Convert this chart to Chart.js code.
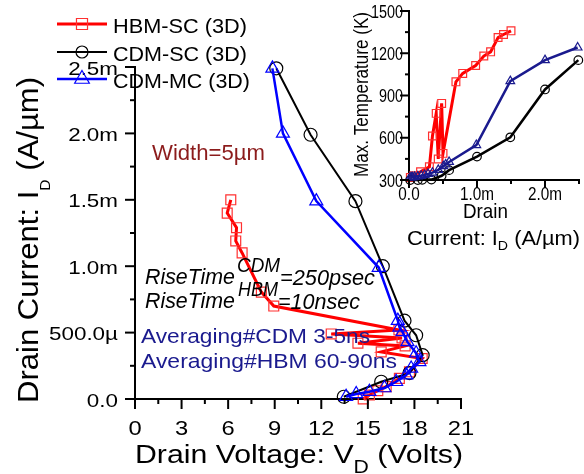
<!DOCTYPE html>
<html>
<head>
<meta charset="utf-8">
<script src="https://cdn.jsdelivr.net/npm/chart.js@4/dist/chart.umd.min.js"></script>
<style>
    html, body { margin: 0; padding: 0; background: #fff; }
    #wrap { position: relative; width: 584px; height: 474px; }
    #mainChart { position: absolute; left: 0; top: 0; }
    #insetChart { position: absolute; left: 340px; top: 0; }
</style>
</head>
<body>
<div id="wrap">
    <canvas id="mainChart" width="584" height="474"></canvas>
    <canvas id="insetChart" width="244" height="262"></canvas>
</div>
<script>
// ---- main plot data: drain voltage (V) vs drain current (mA/µm) ----
const hbmV = [6.17, 5.94, 6.54, 6.49, 6.90, 8.14, 8.94, 17.0, 12.64, 17.2, 14.36, 17.4, 15.86, 18.5, 17.68, 17.03, 16.18, 15.64, 15.1, 14.7];
const hbmI = [1.50, 1.40, 1.29, 1.19, 1.10, 0.805, 0.70, 0.52, 0.49, 0.46, 0.42, 0.40, 0.355, 0.305, 0.205, 0.155, 0.093, 0.062, 0.03, 0.0];

const cdmScV = [9.1, 11.31, 14.2, 15.96, 17.36, 18.11, 18.53, 17.68, 15.86, 13.45];
const cdmScI = [2.49, 1.99, 1.49, 1.0, 0.59, 0.48, 0.33, 0.195, 0.13, 0.017];

const cdmMcV = [8.85, 9.53, 11.68, 15.70, 16.93, 17.04, 17.23, 17.55, 18.11, 18.32, 17.79, 17.47, 16.82, 16.07, 15.1, 14.25, 13.6];
const cdmMcI = [2.49, 2.0, 1.49, 0.99, 0.59, 0.54, 0.505, 0.43, 0.345, 0.28, 0.23, 0.18, 0.13, 0.083, 0.055, 0.038, 0.017];

const xTickVals = [0, 3, 6, 9, 12, 15, 18, 21];
const xTickLabels = ['0', '3', '6', '9', '12', '15', '18', '21'];
const yTickVals = [0, 0.5, 1.0, 1.5, 2.0, 2.5];
const yTickLabels = ['0.0', '500.0µ', '1.0m', '1.5m', '2.0m', '2.5m'];

// ---- inset data: drain current (mA/µm) vs max temperature (K) ----
const inHbmI = [0.02, 0.07, 0.17, 0.30, 0.345, 0.40, 0.43, 0.48, 0.50, 0.69, 0.79, 0.98, 1.10, 1.20, 1.31, 1.39, 1.50];
const inHbmT = [318, 330, 359, 394, 612, 773, 449, 844, 489, 997, 1057, 1113, 1180, 1210, 1312, 1333, 1359];

const inCdmScI = [0.017, 0.13, 0.195, 0.33, 0.48, 0.59, 1.0, 1.49, 2.0, 2.49];
const inCdmScT = [300, 300, 301, 303, 330, 370, 466, 603, 943, 1151];

const inCdmMcI = [0.017, 0.038, 0.055, 0.083, 0.13, 0.18, 0.23, 0.28, 0.345, 0.43, 0.505, 0.54, 0.59, 0.99, 1.49, 2.0, 2.48];
const inCdmMcT = [318, 318, 320, 322, 326, 330, 336, 343, 352, 372, 398, 410, 428, 548, 1002, 1151, 1241];

const inXTickVals = [0, 1, 2];
const inXTickLabels = ['0.0', '1.0m', '2.0m'];
const inXMinor = [0.5, 1.5, 2.5];
const inYTickVals = [300, 600, 900, 1200, 1500];
const inYTickLabels = ['300', '600', '900', '1200', '1500'];

// 颜色
const RED = '#ff0000';
const BLUE = '#0000ff';
const NAVY = '#1a1a8e';
const DARKRED = '#8c1c1c';
const FONT = "'Liberation Sans', Arial, Helvetica, sans-serif";

function toPoints(xs, ys) {
    return xs.map((x, i) => ({ x: x, y: ys[i] }));
}

function midpoints(vals) {
    return vals.slice(1).map((v, i) => (v + vals[i]) / 2);
}

// text with optional sub/superscripts, stretched to a target width
function drawText(ctx, parts, x, y, o) {
    if (typeof parts === 'string') parts = [[parts, '']];
    const style = o.italic ? 'italic ' : '';
    const fontFor = k => style + (k ? o.size * (o.subSize || 0.62) : o.size) + 'px ' + FONT;
    ctx.save();
    let w = 0;
    const widths = parts.map(([t, k]) => {
        ctx.font = fontFor(k);
        const m = ctx.measureText(t).width;
        w += m;
        return m;
    });
    const sx = o.width ? o.width / w : (o.sx || 1);
    ctx.translate(x, y);
    if (o.rotate) ctx.rotate(o.rotate);
    ctx.scale(sx, 1);
    let cx = o.align === 'right' ? -w : o.align === 'center' ? -w / 2 : 0;
    ctx.fillStyle = o.color || '#000';
    ctx.textAlign = 'left';
    ctx.textBaseline = 'alphabetic';
    parts.forEach(([t, k], i) => {
        ctx.font = fontFor(k);
        const dy = k === 'sub' ? (o.subDy || o.size * 0.3) : k === 'sup' ? -o.size * 0.45 : 0;
        ctx.fillText(t, cx, dy);
        cx += widths[i];
    });
    ctx.restore();
}

function line(ctx, x1, y1, x2, y2) {
    ctx.beginPath();
    ctx.moveTo(x1, y1);
    ctx.lineTo(x2, y2);
    ctx.stroke();
}

function drawMarker(ctx, style, x, y, r, color) {
    ctx.save();
    ctx.strokeStyle = color;
    ctx.lineWidth = 1.2;
    ctx.beginPath();
    if (style === 'rect') {
        const s = Math.SQRT1_2 * r;
        ctx.rect(x - s, y - s, 2 * s, 2 * s);
    } else if (style === 'circle') {
        ctx.arc(x, y, r, 0, Math.PI * 2);
    } else {
        for (let k = 0; k < 3; k++) {
            const a = k * 2 * Math.PI / 3;
            ctx[k ? 'lineTo' : 'moveTo'](x + Math.sin(a) * r, y - Math.cos(a) * r);
        }
        ctx.closePath();
    }
    ctx.stroke();
    ctx.restore();
}

function series(label, pts, color, lw, style, r, mColor, order) {
    return {
        label: label,
        data: pts,
        showLine: true,
        borderColor: color,
        borderWidth: lw,
        pointStyle: style,
        pointRadius: r,
        pointBorderWidth: 1.2,
        pointBorderColor: mColor,
        pointBackgroundColor: 'rgba(0,0,0,0)',
        tension: 0,
        clip: false,
        order: order
    };
}

function axisOpts(min, max) {
    return {
        type: 'linear',
        min: min,
        max: max,
        grid: { display: false, drawTicks: false, tickLength: 0 },
        ticks: { display: false },
        border: { display: true, color: '#000', width: 2 }
    };
}

// 主图的刻度、标题、注释、图例
const mainDecor = {
    id: 'mainDecor',
    afterDraw(chart) {
        const ctx = chart.ctx;
        const xs = chart.scales.x, ys = chart.scales.y;
        const a = chart.chartArea;

        ctx.save();
        ctx.strokeStyle = '#000';
        ctx.lineWidth = 2;
        xTickVals.forEach(v => line(ctx, xs.getPixelForValue(v), a.bottom, xs.getPixelForValue(v), a.bottom + 10));
        midpoints(xTickVals).forEach(v => line(ctx, xs.getPixelForValue(v), a.bottom, xs.getPixelForValue(v), a.bottom + 5));
        yTickVals.forEach(v => line(ctx, a.left - 10, ys.getPixelForValue(v), a.left, ys.getPixelForValue(v)));
        midpoints(yTickVals).forEach(v => line(ctx, a.left - 5, ys.getPixelForValue(v), a.left, ys.getPixelForValue(v)));
        ctx.restore();

        xTickVals.forEach((v, i) => drawText(ctx, xTickLabels[i], xs.getPixelForValue(v), a.bottom + 36, { size: 21, sx: 1.13, align: 'center' }));
        yTickVals.forEach((v, i) => drawText(ctx, yTickLabels[i], 118, ys.getPixelForValue(v) + 7.5, { size: 19, sx: 1.18, align: 'right' }));

        // axis titles
        drawText(ctx, [['Drain Voltage: V', ''], ['D', 'sub'], [' (Volts)', '']], 135, 463, { size: 25.5, width: 328, subSize: 0.7, subDy: 10 });
        drawText(ctx, [['Drain Current: I', ''], ['D', 'sub'], [' (A/µm)', '']], 38, 403, { size: 29, width: 326, rotate: -Math.PI / 2, subSize: 0.5, subDy: 12 });

        // annotations
        drawText(ctx, 'Width=5µm', 152, 160, { size: 22.5, width: 113, color: DARKRED });
        drawText(ctx, 'RiseTime', 145, 284, { size: 22, width: 90, italic: true });
        drawText(ctx, 'CDM', 237, 272, { size: 19.5, width: 43, italic: true });
        drawText(ctx, '=250psec', 280, 285, { size: 22, width: 95, italic: true });
        drawText(ctx, 'RiseTime', 145, 308, { size: 22, width: 90, italic: true });
        drawText(ctx, 'HBM', 238, 296, { size: 19.5, width: 40, italic: true });
        drawText(ctx, '=10nsec', 278, 309, { size: 22, width: 82, italic: true });
        drawText(ctx, 'Averaging#CDM 3-5ns', 141, 343, { size: 21, width: 229, color: NAVY });
        drawText(ctx, 'Averaging#HBM 60-90ns', 141, 368, { size: 21, width: 256, color: NAVY });

        // legend
        const legend = [
            ['HBM-SC (3D)', RED, 3, 'rect', 7.8, '#ff3030', 24, 134],
            ['CDM-SC (3D)', '#000', 2, 'circle', 6, '#000', 52, 134],
            ['CDM-MC (3D)', BLUE, 2.5, 'triangle', 8.5, BLUE, 79, 137]
        ];
        legend.forEach(([txt, col, lw, st, r, mc, y, w]) => {
            ctx.save();
            ctx.strokeStyle = col;
            ctx.lineWidth = lw;
            line(ctx, 57, y, 107, y);
            ctx.restore();
            drawMarker(ctx, st, 82, y, r, mc);
            drawText(ctx, txt, 113, y + 9, { size: 21, width: w });
        });
    }
};

// 插图的刻度和标题
const insetDecor = {
    id: 'insetDecor',
    afterDraw(chart) {
        const ctx = chart.ctx;
        const xs = chart.scales.x, ys = chart.scales.y;
        const a = chart.chartArea;

        ctx.save();
        ctx.strokeStyle = '#000';
        ctx.lineWidth = 2;
        inXTickVals.forEach(v => line(ctx, xs.getPixelForValue(v), a.bottom, xs.getPixelForValue(v), a.bottom + 8));
        inXMinor.forEach(v => line(ctx, xs.getPixelForValue(v), a.bottom, xs.getPixelForValue(v), a.bottom + 4));
        inYTickVals.forEach(v => line(ctx, a.left - 9, ys.getPixelForValue(v), a.left, ys.getPixelForValue(v)));
        midpoints(inYTickVals).forEach(v => line(ctx, a.left - 4, ys.getPixelForValue(v), a.left, ys.getPixelForValue(v)));
        ctx.restore();

        inXTickVals.forEach((v, i) => drawText(ctx, inXTickLabels[i], xs.getPixelForValue(v), 200, { size: 18, sx: 0.85, align: 'center' }));
        inYTickVals.forEach((v, i) => drawText(ctx, inYTickLabels[i], 63, ys.getPixelForValue(v) + 6.5, { size: 18, sx: 0.8, align: 'right' }));

        drawText(ctx, 'Max. Temperature (K)', 28, 177, { size: 20, width: 165, rotate: -Math.PI / 2 });
        drawText(ctx, 'Drain', 145.5, 218, { size: 21, width: 45, align: 'center' });
        drawText(ctx, [['Current: I', ''], ['D', 'sub'], [' (A/µm)', '']], 67, 245, { size: 21, width: 173, subSize: 0.65, subDy: 5 });
    }
};

// 主图
new Chart(document.getElementById('mainChart'), {
    type: 'scatter',
    data: {
        datasets: [
            series('CDM-MC (3D)', toPoints(cdmMcV, cdmMcI), BLUE, 2.5, 'triangle', 7.5, BLUE, 0),
            series('CDM-SC (3D)', toPoints(cdmScV, cdmScI), '#000', 2, 'circle', 6.5, '#000', 1),
            series('HBM-SC (3D)', toPoints(hbmV, hbmI), RED, 3, 'rect', 7, '#ff3030', 2)
        ]
    },
    options: {
        responsive: false,
        animation: false,
        devicePixelRatio: 1,
        layout: { autoPadding: false, padding: { left: 135, top: 67, right: 123, bottom: 75 } },
        plugins: { legend: { display: false }, tooltip: { enabled: false } },
        scales: { x: axisOpts(0, 21), y: axisOpts(0, 2.5) }
    },
    plugins: [mainDecor]
});

// 插图
new Chart(document.getElementById('insetChart'), {
    type: 'scatter',
    data: {
        datasets: [
            series('CDM-MC (3D)', toPoints(inCdmMcI, inCdmMcT), NAVY, 2.5, 'triangle', 5, NAVY, 0),
            series('CDM-SC (3D)', toPoints(inCdmScI, inCdmScT), '#000', 2.5, 'circle', 4.3, '#000', 1),
            series('HBM-SC (3D)', toPoints(inHbmI, inHbmT), RED, 3, 'rect', 5.5, '#ff3030', 2)
        ]
    },
    options: {
        responsive: false,
        animation: false,
        devicePixelRatio: 1,
        layout: { autoPadding: false, padding: { left: 69, top: 11, right: 5, bottom: 82 } },
        plugins: { legend: { display: false }, tooltip: { enabled: false } },
        scales: { x: axisOpts(0, 2.5), y: axisOpts(300, 1500) }
    },
    plugins: [insetDecor]
});
</script>
</body>
</html>
